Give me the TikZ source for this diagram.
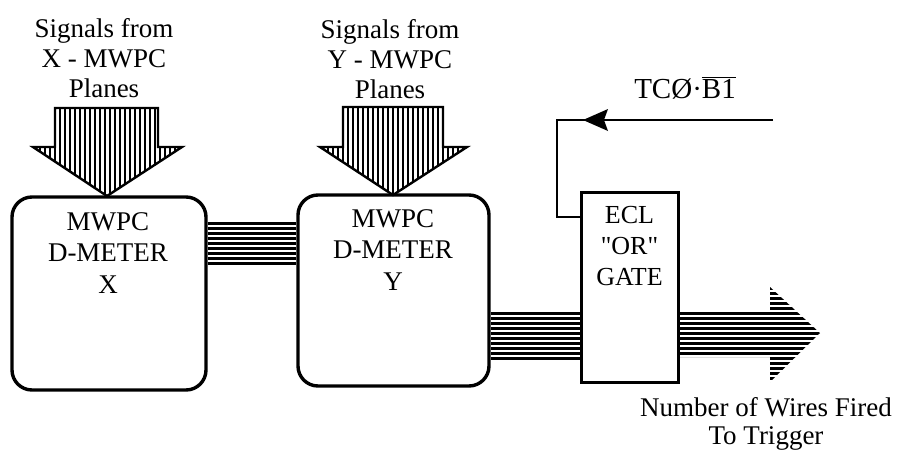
\documentclass[tikz,border=0pt]{standalone}
\usepackage{fontspec}
\setmainfont{Liberation Serif}
\newfontfamily\dfont{Liberation Serif}
\begin{document}
\begin{tikzpicture}[x=1pt,y=-1pt,
  txt/.style={anchor=base,align=center,inner sep=0pt,font=\dfont\fontsize{27}{30}\selectfont},
  blk/.style={draw,line width=3.4pt,rounded corners=20pt,inner sep=0pt},
  gatebox/.style={draw,line width=3pt,inner sep=0pt},
  vstripe/.style={line width=2.7pt},
  stripe/.style={line width=3pt},
  wire/.style={line width=2.8pt}]
\useasboundingbox (0,0) rectangle (898,451);
% boxes
\node[blk,minimum width=194pt,minimum height=193pt] (bx) at (109,293.5) {};
\node[blk,minimum width=191pt,minimum height=191pt] (by) at (393.5,290.5) {};
\node[gatebox,minimum width=97pt,minimum height=190pt] (gate) at (629.5,287) {};
% box labels (anchor = baseline of last line)
\node[txt,font=\dfont\fontsize{27}{31.5}\selectfont] (lx) at (108,293) {MWPC\\D-METER\\X};
\node[txt,font=\dfont\fontsize{27}{31.5}\selectfont] (ly) at (393,290) {MWPC\\D-METER\\Y};
\node[txt,font=\dfont\fontsize{26}{31}\selectfont] (lg) at (629.5,285) {ECL\\\textquotedbl OR\textquotedbl\\GATE};
% top labels
\node[txt] (sx) at (104,97) {Signals from\\X - MWPC\\Planes};
\node[txt] (sy) at (390,98) {Signals from\\Y - MWPC\\Planes};
\node[txt,font=\dfont\fontsize{29}{31}\selectfont] (tc) at (685,98) {TCØ·$\overline{\mbox{B1}}$};
\node[txt,font=\dfont\fontsize{27}{28}\selectfont] (nw) at (766,444) {Number of Wires Fired\\To Trigger};
% down arrows
\begin{scope}
\clip (55,108)--(158,108)--(158,147)--(182,147)--(107,196)--(33,147)--(55,147)--cycle;
\foreach \x in {30,35,...,185} \draw[vstripe] (\x,100)--(\x,200);
\end{scope}
\draw[line width=2.4pt,line join=miter] (55,108)--(158,108)--(158,147)--(182,147)--(107,196)--(33,147)--(55,147)--cycle;
\begin{scope}
\clip (343,107)--(443,107)--(443,147)--(467,147)--(393,195)--(320,147)--(343,147)--cycle;
\foreach \x in {318,323,...,470} \draw[vstripe] (\x,100)--(\x,200);
\end{scope}
\draw[line width=2.4pt,line join=miter] (343,107)--(443,107)--(443,147)--(467,147)--(393,195)--(320,147)--(343,147)--cycle;
% bus X -> Y
\foreach \y in {223,228,...,263} \draw[stripe] (bx.east |- 0,\y) -- (by.west |- 0,\y);
% bus Y -> gate
\foreach \y in {313,318,...,358} \draw[stripe] (by.east |- 0,\y) -- (gate.west |- 0,\y);
% output arrow
\begin{scope}
\clip (gate.east |- 0,310)--(770,310)--(770,287)--(820,333)--(770,382)--(770,357)--(gate.east |- 0,357)--cycle;
\foreach \y in {288,293,...,383} \draw[stripe] (670,\y)--(825,\y);
\end{scope}
% feedback line
\coordinate (tcin) at (773,120);
\draw[wire] (tcin) -- (557,120) |- (gate.west |- 0,217);
\fill (583,120)--(608,109)--(604,120)--(608,131)--cycle;
\end{tikzpicture}
\end{document}
